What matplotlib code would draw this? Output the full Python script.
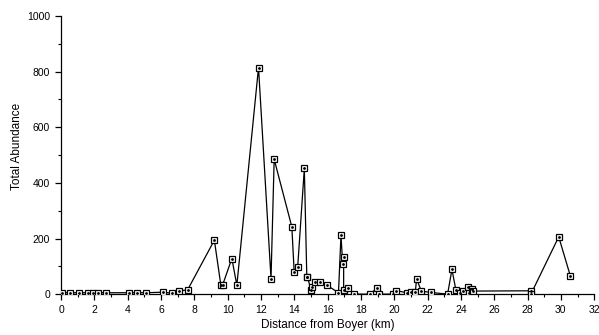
import matplotlib.pyplot as plt
from matplotlib.ticker import MultipleLocator

# distance (km) and total abundance, in sampling order
distance = [0.04, 0.54, 1.1, 1.64, 1.94, 2.2, 2.7, 4.08, 4.58, 5.09, 6.14, 6.65, 7.1, 7.59,
            9.2, 9.59, 9.69, 10.25, 10.55, 11.85, 12.6, 12.79, 13.85, 13.99, 14.2, 14.6,
            14.75, 14.79, 15.0, 15.05, 15.26, 15.56, 15.96, 16.65, 16.8, 16.9, 16.96, 16.96,
            17.2, 17.6, 18.56, 18.96, 19.06, 19.94, 20.1, 20.74, 20.98, 21.26, 21.34, 21.62,
            22.2, 23.2, 23.46, 23.7, 23.96, 24.1, 24.4, 24.46, 24.67, 24.73, 28.2, 28.2,
            29.87, 30.57]
abundance = [5, 5, 5, 5, 5, 5, 5, 5, 5, 5, 7, 3, 12, 15,
             194, 32, 32, 128, 32, 815, 56, 485, 242, 80, 96, 452,
             60, 62, 14, 26, 44, 44, 32, 5, 212, 110, 132, 14,
             23, 0, 0, 22, 0, 0, 13, 5, 9, 7, 55, 11,
             6, 0, 89, 14, 5, 10, 26, 5, 20, 11, 12, 0,
             206, 65]

xticks = list(range(0, 33, 2))
yticks = [0, 200, 400, 600, 800, 1000]

plt.rcParams['font.family'] = ['Liberation Sans', 'DejaVu Sans']

fig = plt.figure(figsize=(5.99, 3.35), dpi=100)
ax = fig.add_axes([0.102, 0.122, 0.890, 0.830])

ax.plot(distance, abundance, color='black', lw=0.9, marker='s', ms=5,
        mfc='white', mec='black', mew=0.9, zorder=3)
ax.plot(distance, abundance, ls='none', marker='.', ms=2, color='black', zorder=4)

ax.set_xlim(0, 32)
ax.set_ylim(0, 1000)
ax.set_xticks(xticks)
ax.set_yticks(yticks)
ax.xaxis.set_minor_locator(MultipleLocator(1))
ax.yaxis.set_minor_locator(MultipleLocator(100))
ax.tick_params(which='major', length=4, width=0.9, labelsize=7.5, pad=4)
ax.tick_params(which='minor', length=2, width=0.8)

for s in ['top', 'right']:
    ax.spines[s].set_visible(False)
for s in ['left', 'bottom']:
    ax.spines[s].set_linewidth(0.9)

ax.set_xlabel('Distance from Boyer (km)', fontsize=8.5, labelpad=3)
ax.set_ylabel('Total Abundance', fontsize=8.5, labelpad=3)
ax.yaxis.set_label_coords(-0.072, 0.53)

fig.savefig('out.png', dpi=100)
